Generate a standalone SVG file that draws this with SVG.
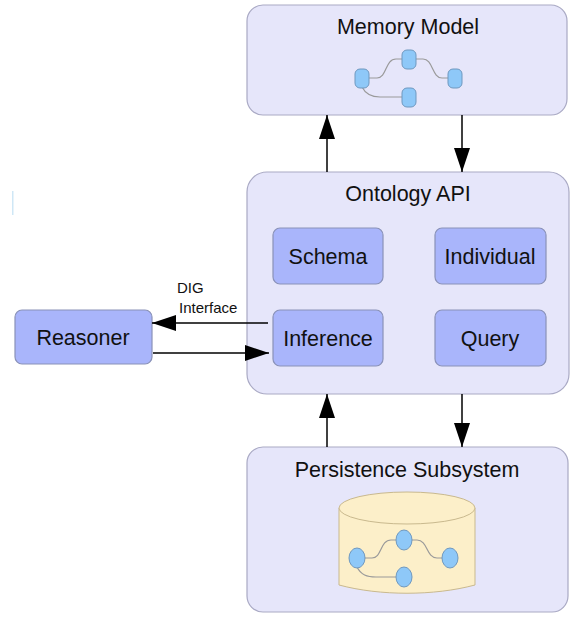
<svg xmlns="http://www.w3.org/2000/svg" width="573" height="618" viewBox="0 0 573 618">
<style>
.big{fill:#e6e6fa;stroke:#a9a9c4;stroke-width:1.2}
.node{fill:#a9b5fb;stroke:#8a92b8;stroke-width:1.2}
.t{font-family:"Liberation Sans",Arial,sans-serif;font-size:21.5px;fill:#111;text-anchor:middle}
.s{font-family:"Liberation Sans",Arial,sans-serif;font-size:15px;fill:#111}
.gn{fill:#8ec8f8;stroke:#6f98bf;stroke-width:1}
.ge{fill:none;stroke:#9a9a9a;stroke-width:1.2}
.c{stroke:#000;stroke-width:1.5;fill:none}
</style>
<defs>
<marker id="ah" markerUnits="userSpaceOnUse" markerWidth="25" markerHeight="18" refX="24" refY="8" orient="auto">
<path d="M0,0 L24,8 L0,16 Z" fill="#000"/>
</marker>
</defs>
<rect x="12" y="191" width="1.5" height="24" fill="#cfe7f6"/>
<g id="memory-model">
<rect class="big" x="247" y="5" width="320" height="110" rx="16"/>
<text class="t" x="408" y="34">Memory Model</text>
<path class="ge" d="M369,78 L377,78 C387,78 385,59 396,59 L402,59"/>
<path class="ge" d="M416,59 L423,59 C433,59 432,78 442,78 L448,78"/>
<path class="ge" d="M362,87 C366,95 372,97 380,97 L402,97"/>
<rect class="gn" x="355" y="69" width="14" height="19" rx="5"/>
<rect class="gn" x="402" y="50" width="14" height="19" rx="5"/>
<rect class="gn" x="448" y="69" width="14" height="19" rx="5"/>
<rect class="gn" x="402" y="88" width="14" height="19" rx="5"/>
</g>
<g id="ontology-api">
<rect class="big" x="247" y="172" width="322" height="222" rx="20"/>
<text class="t" x="408" y="201">Ontology API</text>
</g>
<g id="schema">
<rect class="node" x="273" y="228" width="110" height="56" rx="7"/>
<text class="t" x="328" y="264">Schema</text>
</g>
<g id="individual">
<rect class="node" x="435" y="228" width="111" height="56" rx="7"/>
<text class="t" x="490" y="264">Individual</text>
</g>
<g id="inference">
<rect class="node" x="273" y="310" width="110" height="56" rx="7"/>
<text class="t" x="328" y="346">Inference</text>
</g>
<g id="query">
<rect class="node" x="435" y="310" width="111" height="56" rx="7"/>
<text class="t" x="490" y="346">Query</text>
</g>
<g id="reasoner">
<rect class="node" x="15" y="310" width="137" height="54" rx="7"/>
<text class="t" x="83" y="345">Reasoner</text>
</g>
<g id="persistence-subsystem">
<rect class="big" x="247" y="447" width="321" height="165" rx="16"/>
<text class="t" x="407" y="477">Persistence Subsystem</text>
<path d="M339,508 L339,585 C380,596 434,596 475,585 L475,508 Z" fill="#fcefc9" stroke="#c9b98e" stroke-width="1"/>
<ellipse cx="407" cy="508" rx="68" ry="16" fill="#fcefc9" stroke="#c9b98e" stroke-width="1"/>
<path class="ge" d="M364,558 L372,558 C382,558 380,540 391,540 L397,540"/>
<path class="ge" d="M411,540 L417,540 C428,540 426,558 437,558 L443,558"/>
<path class="ge" d="M357,567 C361,575 367,577 376,577 L397,577"/>
<ellipse class="gn" cx="357" cy="558" rx="8" ry="10"/>
<ellipse class="gn" cx="404" cy="540" rx="8" ry="10"/>
<ellipse class="gn" cx="450" cy="558" rx="8" ry="10"/>
<ellipse class="gn" cx="404" cy="577" rx="8" ry="10"/>
</g>
<g id="connectors">
<line class="c" x1="327" y1="172" x2="327" y2="115" marker-end="url(#ah)"/>
<line class="c" x1="462" y1="115" x2="462" y2="172" marker-end="url(#ah)"/>
<line class="c" x1="327" y1="447" x2="327" y2="394" marker-end="url(#ah)"/>
<line class="c" x1="462" y1="394" x2="462" y2="447" marker-end="url(#ah)"/>
<line class="c" x1="268" y1="323" x2="152" y2="323" marker-end="url(#ah)"/>
<line class="c" x1="153" y1="353" x2="269" y2="353" marker-end="url(#ah)"/>
<text class="s" x="177" y="293">DIG</text>
<text class="s" x="179" y="313">Interface</text>
</g>
</svg>
